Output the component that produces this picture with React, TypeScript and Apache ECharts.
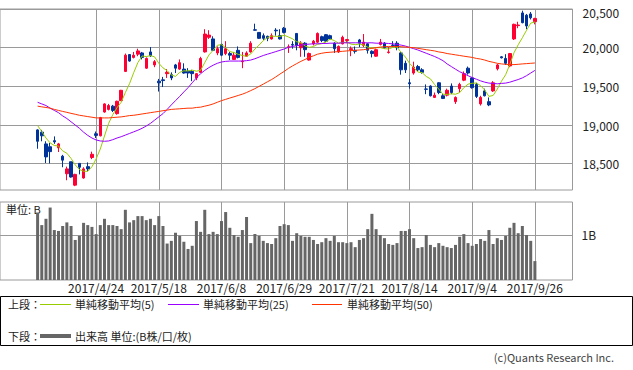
import React, { useEffect, useRef } from "react";
import * as echarts from "echarts";

const FONT = '"Noto Sans CJK JP", "Noto Sans", sans-serif';

// trading days (Japan, 2017/4/4 - 2017/9/26)
const dates = [
  "2017/4/4","2017/4/5","2017/4/6","2017/4/7","2017/4/10","2017/4/11","2017/4/12","2017/4/13","2017/4/14",
  "2017/4/17","2017/4/18","2017/4/19","2017/4/20","2017/4/21","2017/4/24","2017/4/25","2017/4/26","2017/4/27","2017/4/28",
  "2017/5/1","2017/5/2","2017/5/8","2017/5/9","2017/5/10","2017/5/11","2017/5/12","2017/5/15","2017/5/16","2017/5/17",
  "2017/5/18","2017/5/19","2017/5/22","2017/5/23","2017/5/24","2017/5/25","2017/5/26","2017/5/29","2017/5/30","2017/5/31",
  "2017/6/1","2017/6/2","2017/6/5","2017/6/6","2017/6/7","2017/6/8","2017/6/9","2017/6/12","2017/6/13","2017/6/14",
  "2017/6/15","2017/6/16","2017/6/19","2017/6/20","2017/6/21","2017/6/22","2017/6/23","2017/6/26","2017/6/27","2017/6/28",
  "2017/6/29","2017/6/30","2017/7/3","2017/7/4","2017/7/5","2017/7/6","2017/7/7","2017/7/10","2017/7/11","2017/7/12",
  "2017/7/13","2017/7/14","2017/7/18","2017/7/19","2017/7/20","2017/7/21","2017/7/24","2017/7/25","2017/7/26","2017/7/27",
  "2017/7/28","2017/7/31","2017/8/1","2017/8/2","2017/8/3","2017/8/4","2017/8/7","2017/8/8","2017/8/9","2017/8/10",
  "2017/8/14","2017/8/15","2017/8/16","2017/8/17","2017/8/18","2017/8/21","2017/8/22","2017/8/23","2017/8/24","2017/8/25",
  "2017/8/28","2017/8/29","2017/8/30","2017/8/31","2017/9/1","2017/9/4","2017/9/5","2017/9/6","2017/9/7","2017/9/8",
  "2017/9/11","2017/9/12","2017/9/13","2017/9/14","2017/9/15","2017/9/19","2017/9/20","2017/9/21","2017/9/22","2017/9/25",
  "2017/9/26"
];

const opens = [
  18937,18908,18756,18719,18798,18706,18597,18370,18525,18223,18504,18315,18462,18580,18887,18861,19168,19202,19244,
  19147,19315,19693,19911,19874,19916,19932,19735,19945,19777,19567,19584,19664,19651,19777,19723,19723,19697,19693,19609,
  19681,19945,20134,20113,19932,20042,19924,19924,19848,19966,19819,19890,19945,20231,20197,20155,20147,20113,20226,20155,
  20252,20004,20042,20184,19999,20058,19840,20050,20071,20142,20168,20155,20058,19945,20050,20092,19974,19966,20100,20029,
  20050,19953,19890,20042,20058,19937,20033,20058,19932,19798,19546,19672,19756,19714,19466,19504,19357,19546,19378,19386,
  19504,19302,19470,19580,19735,19609,19525,19273,19441,19302,19441,19727,19882,19861,19764,20113,20285,20449,20420,20436,
  20336
];
const closes = [
  18790,18861,18588,18656,18782,18756,18546,18433,18328,18362,18454,18433,18433,18622,18866,19097,19273,19252,19189,
  19307,19449,19903,19827,19903,19958,19874,19861,19895,19819,19546,19575,19681,19609,19735,19806,19672,19672,19664,19664,
  19861,20176,20163,19966,19987,19903,19987,19903,19903,19874,19827,19932,20058,20226,20121,20121,20121,20155,20218,20113,
  20197,20012,20033,20029,20058,19974,19924,20084,20184,20092,20084,20113,19987,20016,20134,20105,19987,19953,20058,20071,
  19966,19924,19974,20071,20000,19945,20029,20000,19714,19714,19534,19748,19714,19681,19462,19378,19386,19420,19344,19449,
  19420,19357,19525,19664,19672,19483,19370,19357,19378,19260,19546,19777,19869,19798,19924,20302,20293,20323,20281,20386,
  20378
];
const highs = [
  18945,18937,18790,18769,18853,18769,18614,18462,18525,18370,18504,18454,18517,18656,18916,19105,19281,19273,19260,
  19315,19454,19924,19916,19945,19987,19945,19874,20008,19840,19596,19622,19723,19681,19790,19848,19798,19735,19714,19672,
  19882,20239,20226,20147,20016,20050,20084,19945,19945,20016,19945,19953,20084,20310,20197,20184,20155,20184,20252,20239,
  20268,20042,20084,20184,20084,20071,19937,20100,20197,20155,20176,20168,20071,20029,20155,20113,20016,20016,20113,20176,
  20058,19966,19987,20113,20071,20008,20084,20084,19945,19832,19596,19819,19777,19735,19525,19513,19420,19554,19399,19470,
  19538,19370,19546,19693,19756,19622,19546,19378,19470,19357,19567,19790,19890,19916,19932,20310,20335,20478,20436,20461,
  20386
];
const lows = [
  18693,18790,18509,18504,18756,18651,18454,18286,18320,18210,18362,18307,18403,18559,18832,18853,19160,19189,19168,
  19134,19311,19685,19819,19861,19890,19848,19727,19882,19748,19433,19491,19609,19580,19672,19714,19664,19609,19567,19580,
  19672,19937,20113,19958,19903,19890,19903,19840,19840,19861,19735,19882,19937,20222,20113,20100,20084,20105,20155,20105,
  20184,19932,19987,19966,19882,19882,19832,20029,20058,20071,20071,20100,19932,19932,20042,20058,19890,19924,20008,20008,
  19924,19874,19882,20029,19987,19924,20008,19966,19651,19672,19470,19651,19693,19664,19399,19370,19349,19399,19336,19370,
  19399,19273,19420,19567,19651,19470,19349,19252,19370,19244,19428,19706,19861,19777,19748,20100,20252,20315,20239,20365,
  20302
];

const ma5 = [
  18992,18916,18832,18769,18735,18729,18666,18635,18569,18485,18425,18402,18402,18461,18562,18690,18858,19022,19135,
  19224,19294,19420,19535,19678,19808,19893,19885,19898,19881,19799,19739,19703,19646,19629,19681,19701,19699,19710,19696,
  19707,19807,19906,19966,20031,20039,20001,19949,19937,19914,19899,19888,19919,19983,20033,20092,20129,20149,20147,20146,
  20161,20139,20115,20077,20066,20021,20004,20014,20045,20052,20074,20111,20092,20058,20067,20071,20046,20039,20047,20035,
  20007,19994,19999,20001,19987,19983,20004,20009,19938,19880,19798,19742,19685,19678,19628,19597,19524,19465,19398,19395,
  19404,19398,19419,19483,19528,19540,19543,19509,19452,19370,19382,19464,19566,19650,19783,19934,20037,20128,20225,20317,
  20332
];
const ma25 = [
  19294,19273,19252,19218,19189,19160,19118,19084,19042,19000,18958,18908,18866,18832,18807,18794,18790,18794,18811,
  18832,18849,18870,18891,18912,18933,18958,18987,19021,19063,19105,19147,19202,19260,19315,19370,19428,19483,19546,19609,
  19664,19706,19743,19773,19798,19815,19823,19827,19827,19827,19827,19832,19840,19857,19878,19899,19916,19932,19949,19966,
  19983,20004,20016,20025,20033,20042,20046,20050,20050,20054,20054,20058,20058,20058,20063,20063,20063,20063,20063,20063,
  20063,20063,20058,20058,20058,20054,20050,20042,20033,20021,20004,19987,19970,19949,19928,19907,19886,19861,19832,19790,
  19756,19722,19689,19664,19638,19613,19592,19571,19554,19542,19538,19533,19538,19542,19554,19571,19588,19609,19638,19672,
  19706
];
const ma50 = [
  19244,19235,19227,19218,19202,19189,19176,19164,19151,19139,19126,19118,19109,19101,19092,19092,19092,19092,19097,
  19101,19105,19113,19122,19126,19134,19143,19151,19160,19168,19176,19185,19193,19202,19206,19210,19214,19218,19218,19227,
  19231,19244,19256,19273,19294,19315,19332,19349,19365,19382,19399,19420,19445,19470,19500,19529,19559,19588,19622,19659,
  19693,19731,19764,19794,19823,19848,19874,19895,19916,19928,19937,19941,19945,19949,19953,19958,19962,19966,19970,19974,
  19983,19991,20000,20008,20012,20016,20016,20016,20012,20008,20004,20000,19991,19983,19974,19966,19958,19945,19937,19924,
  19916,19907,19899,19890,19882,19874,19861,19853,19840,19823,19811,19798,19790,19785,19781,19781,19785,19790,19794,19798,
  19802
];

// volume, unit: B (billion shares)
const volumes = [
  1.50,1.22,1.36,1.61,1.11,1.09,1.20,1.28,1.20,0.89,0.98,1.27,1.22,1.18,1.02,1.22,1.36,1.22,1.22,
  1.20,1.13,1.56,1.28,1.33,1.42,1.42,1.33,1.36,1.22,1.42,1.20,0.81,0.87,1.05,0.98,0.85,0.69,0.76,1.31,
  1.07,1.56,1.02,1.07,1.02,1.31,1.51,1.16,1.00,0.96,1.11,1.40,0.82,1.02,0.98,0.87,0.82,0.80,0.93,1.20,
  1.24,1.22,0.87,1.04,0.98,0.96,0.96,0.89,0.80,0.84,0.93,0.87,0.98,0.84,0.84,0.82,0.84,0.73,0.89,0.93,
  1.13,1.47,1.13,1.00,0.93,0.80,0.78,0.82,1.09,1.09,1.13,0.93,0.71,0.73,1.00,0.78,0.73,0.82,0.76,0.73,
  0.71,0.78,0.96,1.02,0.82,0.76,0.80,0.91,0.87,1.11,0.80,0.93,0.89,0.98,1.16,1.27,1.04,1.20,1.00,0.87,
  0.42
];

const priceTicks = [18500, 19000, 19500, 20000, 20500];
const volumeTicks = [1];
const legendLabels = ["単純移動平均(5)", "単純移動平均(25)", "単純移動平均(50)"];
const volumeLegend = "出来高 単位:(B株/口/枚)";

const PAD_BEFORE = 9;
const PAD_AFTER = 9;
const FIRST_LABEL = 14;
const LABEL_STEP = 15;

const C_UP = "#ff0033";
const C_DOWN = "#003399";
const C_MA5 = "#99cc00";
const C_MA25 = "#9900ff";
const C_MA50 = "#ff3300";
const C_GRID = "#9a9a9a";
const C_VOL = "#666666";

function pad<T>(arr: T[], fill: any): any[] {
  return [
    ...Array(PAD_BEFORE).fill(fill),
    ...arr,
    ...Array(PAD_AFTER).fill(fill),
  ];
}

function fmt(v: number) {
  return String(v).replace(/\B(?=(\d{3})+(?!\d))/g, ",");
}

export default function App() {
  const ref = useRef<HTMLDivElement>(null);

  useEffect(() => {
    if (!ref.current) return;
    const chart = echarts.init(ref.current, undefined, { renderer: "svg" });

    const axisDates = pad(dates, "");
    const candleData = pad(
      dates.map((_, i) => [opens[i], closes[i], lows[i], highs[i]]),
      ["-", "-", "-", "-"]
    );
    const showAt = (index: number) =>
      index >= PAD_BEFORE &&
      index < PAD_BEFORE + dates.length &&
      (index - PAD_BEFORE - FIRST_LABEL) % LABEL_STEP === 0;

    const lineSeries = (data: number[], color: string, name: string) => ({
      type: "line",
      name,
      xAxisIndex: 0,
      yAxisIndex: 0,
      data: pad(data, "-"),
      symbol: "none",
      showSymbol: false,
      silent: true,
      lineStyle: { color, width: 1 },
      z: 3,
    });

    const textStyle = (text: string, size = 11, color = "#222") => ({
      text,
      fontSize: size,
      fontFamily: FONT,
      fill: color,
      verticalAlign: "middle",
    });

    const topTick = priceTicks[priceTicks.length - 1];
    const richBase = { color: "#222", fontSize: 12, fontFamily: FONT, lineHeight: 12 };

    const option: any = {
      animation: false,
      textStyle: { fontFamily: FONT },
      grid: [
        {
          left: -0.5, right: 60.5, top: 5, height: 185,
          show: true, borderColor: C_GRID, borderWidth: 1,
        },
        {
          left: -0.5, right: 60.5, top: 202, height: 78,
          show: true, borderColor: C_GRID, borderWidth: 1,
        },
      ],
      xAxis: [
        {
          type: "category",
          gridIndex: 0,
          data: axisDates,
          boundaryGap: false,
          axisLine: { show: false },
          axisTick: { show: false },
          axisLabel: { show: false },
          splitLine: { show: true, interval: showAt, lineStyle: { color: C_GRID, width: 1 } },
        },
        {
          type: "category",
          gridIndex: 1,
          data: axisDates,
          boundaryGap: false,
          axisLine: { show: false },
          axisTick: { show: false },
          axisLabel: {
            show: true,
            interval: showAt,
            color: "#222",
            fontSize: 12,
            lineHeight: 12,
            fontFamily: FONT,
            margin: 1,
          },
          splitLine: { show: true, interval: showAt, lineStyle: { color: C_GRID, width: 1 } },
        },
      ],
      yAxis: [
        {
          type: "value",
          gridIndex: 0,
          position: "right",
          min: 18160,
          max: 20500,
          axisLine: { show: false },
          axisTick: { show: false, customValues: priceTicks },
          axisLabel: {
            customValues: priceTicks,
            formatter: (v: number) =>
              v === topTick ? `{top|${fmt(v)}}` : `{n|${fmt(v)}}`,
            margin: 10,
            rich: {
              n: { ...richBase },
              top: { ...richBase, padding: [6, 0, 0, 0] },
            },
          },
          splitLine: { show: true, lineStyle: { color: C_GRID, width: 1 } },
        },
        {
          type: "value",
          gridIndex: 1,
          position: "right",
          min: 0,
          max: 1.7333,
          axisLine: { show: false },
          axisTick: { show: false, customValues: volumeTicks },
          axisLabel: {
            customValues: volumeTicks,
            formatter: (v: number) => `${v}B`,
            color: "#222",
            fontSize: 12,
            fontFamily: FONT,
            margin: 9,
          },
          splitLine: { show: true, lineStyle: { color: C_GRID, width: 1 } },
        },
      ],
      series: [
        {
          type: "candlestick",
          name: "日経平均",
          xAxisIndex: 0,
          yAxisIndex: 0,
          data: candleData,
          barWidth: 3,
          silent: true,
          itemStyle: {
            color: C_UP,
            color0: C_DOWN,
            borderColor: C_UP,
            borderColor0: C_DOWN,
            borderColorDoji: C_DOWN,
            borderWidth: 1,
          },
          z: 2,
        },
        lineSeries(ma5, C_MA5, legendLabels[0]),
        lineSeries(ma25, C_MA25, legendLabels[1]),
        lineSeries(ma50, C_MA50, legendLabels[2]),
        {
          type: "bar",
          name: "出来高",
          xAxisIndex: 1,
          yAxisIndex: 1,
          data: pad(volumes, "-"),
          barWidth: 3,
          silent: true,
          itemStyle: { color: C_VOL },
        },
      ],
      graphic: [
        { type: "text", x: 6, y: 209, style: textStyle("単位: B", 11) },
        {
          type: "rect",
          shape: { x: 0.5, y: 296.5, width: 632, height: 49 },
          style: { fill: "none", stroke: "#000", lineWidth: 1 },
        },
        { type: "text", x: 8, y: 304, style: textStyle("上段：", 11) },
        { type: "line", shape: { x1: 40, y1: 304.5, x2: 71, y2: 304.5 }, style: { stroke: C_MA5, lineWidth: 1 } },
        { type: "text", x: 75, y: 304, style: textStyle(legendLabels[0], 11) },
        { type: "line", shape: { x1: 168, y1: 304.5, x2: 199, y2: 304.5 }, style: { stroke: C_MA25, lineWidth: 1 } },
        { type: "text", x: 203, y: 304, style: textStyle(legendLabels[1], 11) },
        { type: "line", shape: { x1: 312, y1: 304.5, x2: 342, y2: 304.5 }, style: { stroke: C_MA50, lineWidth: 1 } },
        { type: "text", x: 347, y: 304, style: textStyle(legendLabels[2], 11) },
        { type: "text", x: 8, y: 336, style: textStyle("下段：", 11) },
        { type: "line", shape: { x1: 40, y1: 336, x2: 71, y2: 336 }, style: { stroke: C_VOL, lineWidth: 4 } },
        { type: "text", x: 75, y: 336, style: textStyle(volumeLegend, 11) },
        {
          type: "text",
          x: 614,
          y: 357,
          style: { ...textStyle("(c)Quants Research Inc.", 11, "#444"), align: "right" },
        },
      ],
    };

    chart.setOption(option);
    return () => chart.dispose();
  }, []);

  return (
    <div
      ref={ref}
      style={{ position: "fixed", left: 0, top: 0, width: 633, height: 370, background: "#fff" }}
    />
  );
}
